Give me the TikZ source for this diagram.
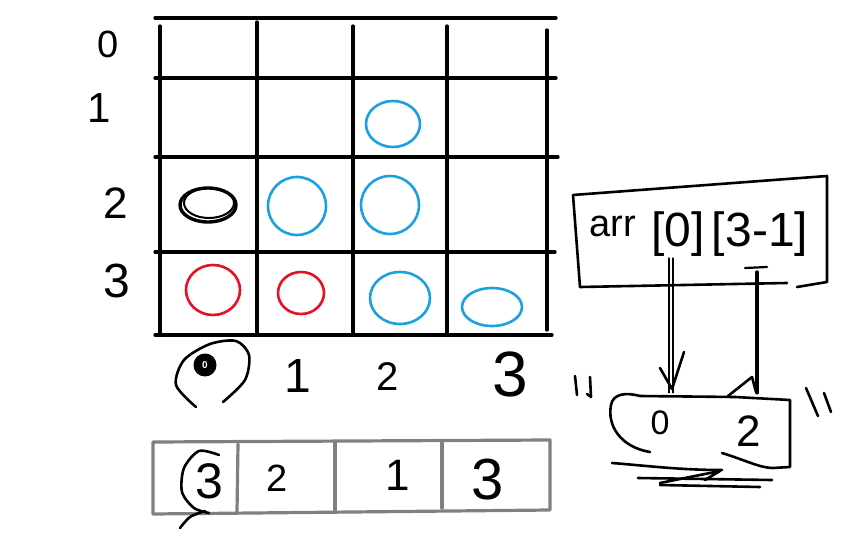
\documentclass[tikz,border=0pt]{standalone}
\usepackage{fontspec}
\setmainfont{Liberation Sans}
\usetikzlibrary{shapes.geometric,calc}
\definecolor{cblue}{HTML}{1BA1E2}
\definecolor{cred}{HTML}{E81123}
\definecolor{cgray}{HTML}{808080}
\begin{document}
\begin{tikzpicture}[x=1pt,y=-1pt,line cap=round,line join=round,
  gridline/.style={line width=3.2pt},
  lbl/.style={font=\fontsize{38}{38}\selectfont,inner sep=0pt},
  biglbl/.style={font=\fontsize{64}{64}\selectfont,inner sep=0pt},
  celltxt/.style={font=\fontsize{44}{44}\selectfont,inner sep=0pt},
  idxtxt/.style={font=\fontsize{48}{48}\selectfont,inner sep=0pt},
  ring/.style={ellipse,draw,line width=2.6pt,inner sep=0pt},
  arrline/.style={draw=cgray,line width=3.2pt},
  pen/.style={line width=2.6pt}]
\useasboundingbox[fill=white] (0,0) rectangle (864,540);

% ---- grid ----
\draw[gridline] (155,18) -- (556,18);
\draw[gridline] (155,78) -- (556,78);
\draw[gridline] (155,157) -- (558,157);
\draw[gridline] (155,252) -- (555,252);
\draw[gridline] (155,335) -- (552,335);
\draw[gridline] (160,26) -- (160,335);
\draw[gridline] (257,22) -- (257,335);
\draw[gridline] (353,26) -- (353,335);
\draw[gridline] (447,26) -- (447,335);
\draw[gridline] (547,30) -- (547,330);

% ---- row labels ----
\node[lbl] (row0) at (108,44) {0};
\node[lbl,font=\fontsize{42}{42}\selectfont] (row1) at (99,108) {1};
\node[lbl,font=\fontsize{44}{44}\selectfont] (row2) at (116,203) {2};
\node[lbl,font=\fontsize{48}{48}\selectfont] (row3) at (117,281) {3};

% ---- column labels ----
\node[circle,draw,fill=black,line width=3pt,minimum size=20pt,inner sep=0pt,
      text=white,font=\bfseries\fontsize{10}{10}\selectfont] (col0) at (205,365) {0};
\draw[pen] plot[smooth] coordinates {(223,402) (245,380) (249,355) (236,341) (210,344) (184,360) (176,385) (196,407)};
\node[lbl,font=\fontsize{48}{48}\selectfont] (col1) at (298,376) {1};
\node[lbl,font=\fontsize{40}{40}\selectfont] (col2) at (388,377) {2};
\node[biglbl] (col3) at (510,374) {3};

% ---- rings ----
\node[ring,draw=cblue,minimum width=54pt,minimum height=46pt] (r12) at (393,124) {};
\node[ring,draw=black,line width=3.4pt,minimum width=56pt,minimum height=34pt] (r20) at (208,205) {};
\draw[line width=2pt] (209,203) ellipse [x radius=25, y radius=15];
\node[ring,draw=cblue,minimum width=58pt,minimum height=58pt] (r21) at (297,206) {};
\node[ring,draw=cblue,minimum width=58pt,minimum height=58pt] (r22) at (390,205) {};
\node[ring,draw=cred,minimum width=54pt,minimum height=50pt] (r30) at (213,290) {};
\node[ring,draw=cred,minimum width=46pt,minimum height=42pt] (r31) at (301,293) {};
\node[ring,draw=cblue,minimum width=60pt,minimum height=52pt] (r32) at (400,298) {};
\node[ring,draw=cblue,minimum width=60pt,minimum height=38pt] (r33) at (492,307) {};

% ---- bottom array ----
\draw[arrline] (153,442) -- (550,440) -- (550,510) -- (153,514) -- cycle;
\draw[arrline] (238,444) -- (237,512);
\draw[arrline] (335,442) -- (335,510);
\draw[arrline] (442,442) -- (442,508);
\node[celltxt,font=\fontsize{50}{50}\selectfont] (a0) at (209,481) {3};
\node[celltxt,font=\fontsize{38}{38}\selectfont] (a1) at (277,478) {2};
\node[celltxt,font=\fontsize{44}{44}\selectfont] (a2) at (398,475) {1};
\node[celltxt,font=\fontsize{58}{58}\selectfont] (a3) at (488,480) {3};
\draw[pen] plot[smooth] coordinates {(219,455) (199,451) (184,468) (182,492) (194,508) (209,513)};
\draw[pen] plot[smooth] coordinates {(205,511) (190,517) (180,528)};

% ---- index box ----
\draw[pen] (580,287) -- (573,195) -- (827,176) -- (827,282) -- (797,287);
\draw[pen] (787,283) -- (580,287);
\node[font=\fontsize{38}{38}\selectfont,inner sep=0pt] (arr) at (613,226) {arr};
\node[idxtxt] (idx0) at (678,234) {[0]};
\node[idxtxt] (idx1) at (760,234) {[3-1]};
\coordinate (p0) at (671,258);
\coordinate (p1) at (757,272);
\draw[pen,line width=2.2pt] (745,268) -- (767,267);

% ---- target cell ----
\node[minimum width=180pt,minimum height=74pt] (cellbox) at (700,430) {};
\draw[pen] (722,453) .. controls (745,460) and (760,468) .. (773,468) -- (790,467) -- (790,400) -- (735,397)
  -- (640,396) .. controls (625,392) and (613,394) .. (611,405)
  .. controls (607,425) and (620,447) .. (650,452);
\node[celltxt,font=\fontsize{34}{34}\selectfont] (v0) at (660,423) {0};
\node[celltxt] (v1) at (749,431) {2};

% ---- connectors ----
\draw[line width=1.3pt] ([xshift=-2pt]p0) -- ([xshift=-2pt]p0 |- cellbox.north);
\draw[line width=1.3pt] ([xshift=2pt]p0) -- ([xshift=2pt]p0 |- cellbox.north);
\draw[pen] (660,368) -- (672,389) -- (684,352);
\draw[line width=3.4pt] (p1) -- (p1 |- cellbox.north);
\draw[pen] (728,396) -- (752,377) -- (756,392);

% ---- tick marks ----
\draw[pen] (575,376) -- (577,395);
\draw[pen] (590,377) -- (591,397) -- (587,394);
\draw[pen] (806,388) -- (818,416);
\draw[pen] (824,393) -- (831,412);

% ---- scribbles under cell ----
\draw[pen] (612,463) .. controls (650,466) and (680,470) .. (722,470);
\draw[pen] (638,478) -- (772,480);
\draw[pen] (660,485) -- (760,487);
\draw[pen] (660,483) -- (720,471) -- (705,480);
\end{tikzpicture}
\end{document}
